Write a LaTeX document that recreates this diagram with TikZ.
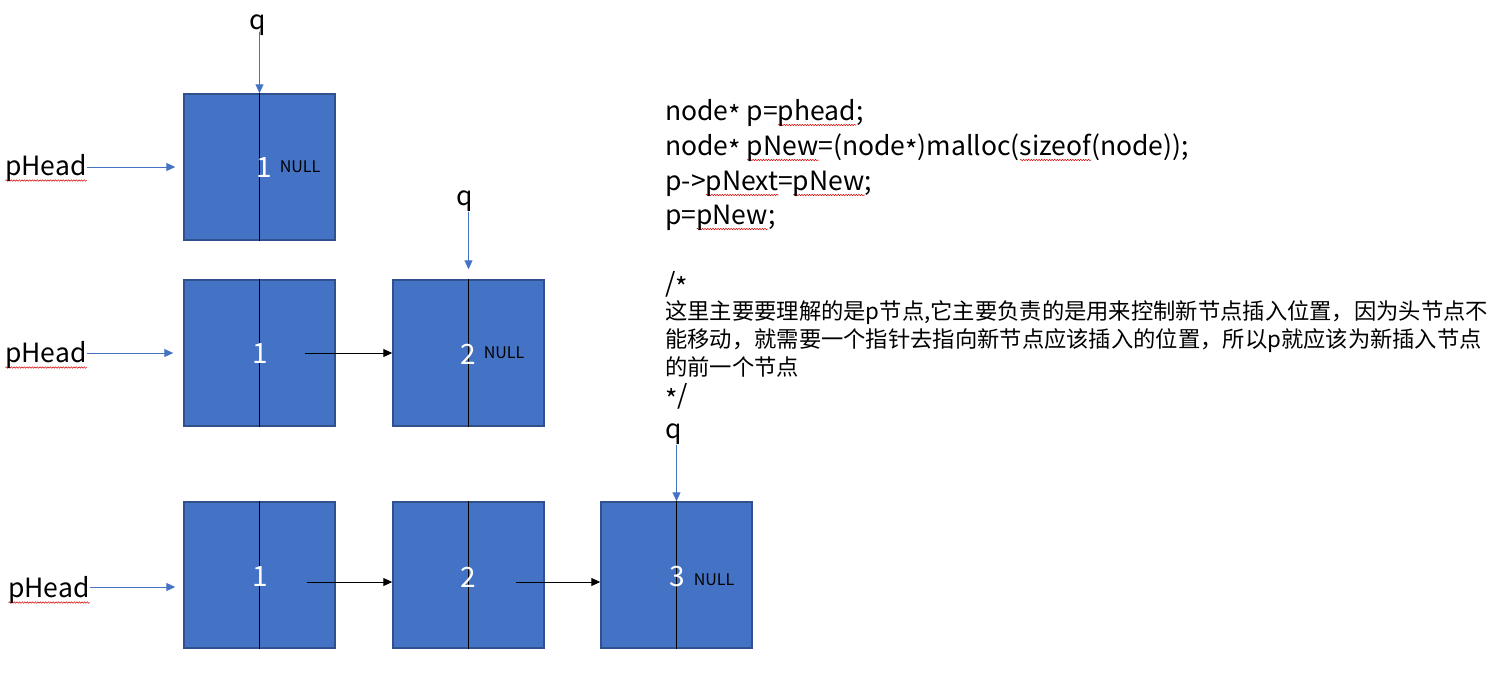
\documentclass[tikz,border=0pt]{standalone}
\usepackage{fontspec}
\setmainfont{Noto Sans CJK SC}
\usetikzlibrary{arrows.meta,positioning,decorations.pathmorphing}

\definecolor{boxblue}{HTML}{4472C4}
\definecolor{boxedge}{HTML}{2F528F}

% red spell-check wave under a word
\newsavebox\wordbox
\newcommand\spellwave[1]{\sbox\wordbox{#1}%
  \rlap{\raisebox{-5pt}{\tikz[baseline=0pt]\draw[red!85!black, line width=0.5pt, decorate, decoration={snake, amplitude=0.7pt, segment length=2.6pt}] (0pt,0pt) -- (\wd\wordbox,0pt);}}\usebox\wordbox}
\newcommand\st{\raisebox{-0.22em}{*}}

\tikzset{
  listbox/.style={draw=boxedge, line width=1.5pt, fill=boxblue, minimum width=151pt, minimum height=146pt, inner sep=0pt},
  ptr/.style={-{Triangle[length=9pt,width=8pt]}, draw=boxblue, line width=1pt},
  link/.style={-{Triangle[length=9pt,width=8pt]}, draw=black, line width=1pt},
  val/.style={white, inner sep=0pt, font=\fontsize{28}{28}\selectfont},
  nul/.style={inner sep=0pt, font=\fontsize{16}{16}\selectfont},
  lbl/.style={inner sep=0pt, font=\fontsize{26.5}{26.5}\selectfont},
  code/.style={anchor=base west, inner sep=0pt, font=\fontsize{26.5}{26.5}\selectfont},
  note/.style={anchor=base west, inner sep=0pt, font=\fontsize{22.3}{22.3}\selectfont},
}

\begin{document}
\begin{tikzpicture}[x=1pt, y=-1pt]
  \useasboundingbox (0,0) rectangle (1503,686);

  % First row: head only
  \node[listbox] (a1) at (259.5,167) {};
  \draw (a1.north) -- (a1.south);
  \node[val] (a1v) at (264,168) {1};
  \node[nul] (a1n) at (300,167) {NULL};
  \node[lbl] (q1) at (258,25) {q};
  \draw[ptr] (a1.north |- q1.south) -- ([yshift=4pt]a1.north |- q1.south) -- (a1.north);
  \node[lbl, anchor=west] (h1) at (5,168) {\spellwave{pHead}};
  \draw[ptr] (h1.east |- a1.west) -- ([xshift=-8pt]a1.west);

  % Second row: two nodes
  \node[listbox] (b1) at (259.5,353) {};
  \node[listbox] (b2) at (468.5,353) {};
  \draw (b1.north) -- (b1.south);
  \draw (b2.north) -- (b2.south);
  \node[val] (b1v) at (260,354) {1};
  \node[val] (b2v) at (468,354) {2};
  \node[nul] (b2n) at (504,353) {NULL};
  \draw[link] ([xshift=45pt]b1.center) -- (b2.west);
  \node[lbl] (q2) at (465,201) {q};
  \draw[ptr] (b2.north |- q2.south) -- ([yshift=10pt]b2.north);
  \node[lbl, anchor=west] (h2) at (5,355) {\spellwave{pHead}};
  \draw[ptr] (h2.east |- b1.west) -- ([xshift=-10pt]b1.west);

  % Third row: three nodes
  \node[listbox] (c1) at (259.5,575) {};
  \node[listbox] (c2) at (468.5,575) {};
  \node[listbox] (c3) at (676.5,575) {};
  \foreach \n in {c1,c2,c3}
    \draw (\n.north) -- (\n.south);
  \node[val] (c1v) at (260,577) {1};
  \node[val] (c2v) at (468,577) {2};
  \node[val] (c3v) at (677,577) {3};
  \node[nul] (c3n) at (714,580) {NULL};
  \draw[link] ([xshift=47pt,yshift=-7pt]c1.center) -- ([yshift=-7pt]c2.west);
  \draw[link] ([xshift=47pt,yshift=-7pt]c2.center) -- ([yshift=-7pt]c3.west);
  \node[lbl] (q3) at (674,434) {q};
  \draw[ptr] (c3.north |- q3.south) -- (c3.north);
  \node[lbl, anchor=west] (h3) at (8,590) {\spellwave{pHead}};
  \draw[ptr] ([yshift=3pt]h3.east) -- ([xshift=-8pt,yshift=3pt]h3.east -| c1.west);

  % Code
  \node[code] (l1) at (665,120) {node\st{} p=\spellwave{phead};};
  \node[code] (l2) at (665,155) {node\st{} \spellwave{pNew}=(node\st)malloc(\spellwave{sizeof}(node));};
  \node[code] (l3) at (665,190) {p->\spellwave{pNext}=\spellwave{pNew};};
  \node[code] (l4) at (665,224) {p=\spellwave{pNew};};

  % Comment
  \node[code] (c0) at (665,292) {/\st};
  \node[note] (t1) at (665,319) {这里主要要理解的是p节点,它主要负责的是用来控制新节点插入位置，因为头节点不};
  \node[note] (t2) at (665,347) {能移动，就需要一个指针去指向新节点应该插入的位置，所以p就应该为新插入节点};
  \node[note] (t3) at (665,375) {的前一个节点};
  \node[code] (c9) at (665,404) {\st/};
\end{tikzpicture}
\end{document}
